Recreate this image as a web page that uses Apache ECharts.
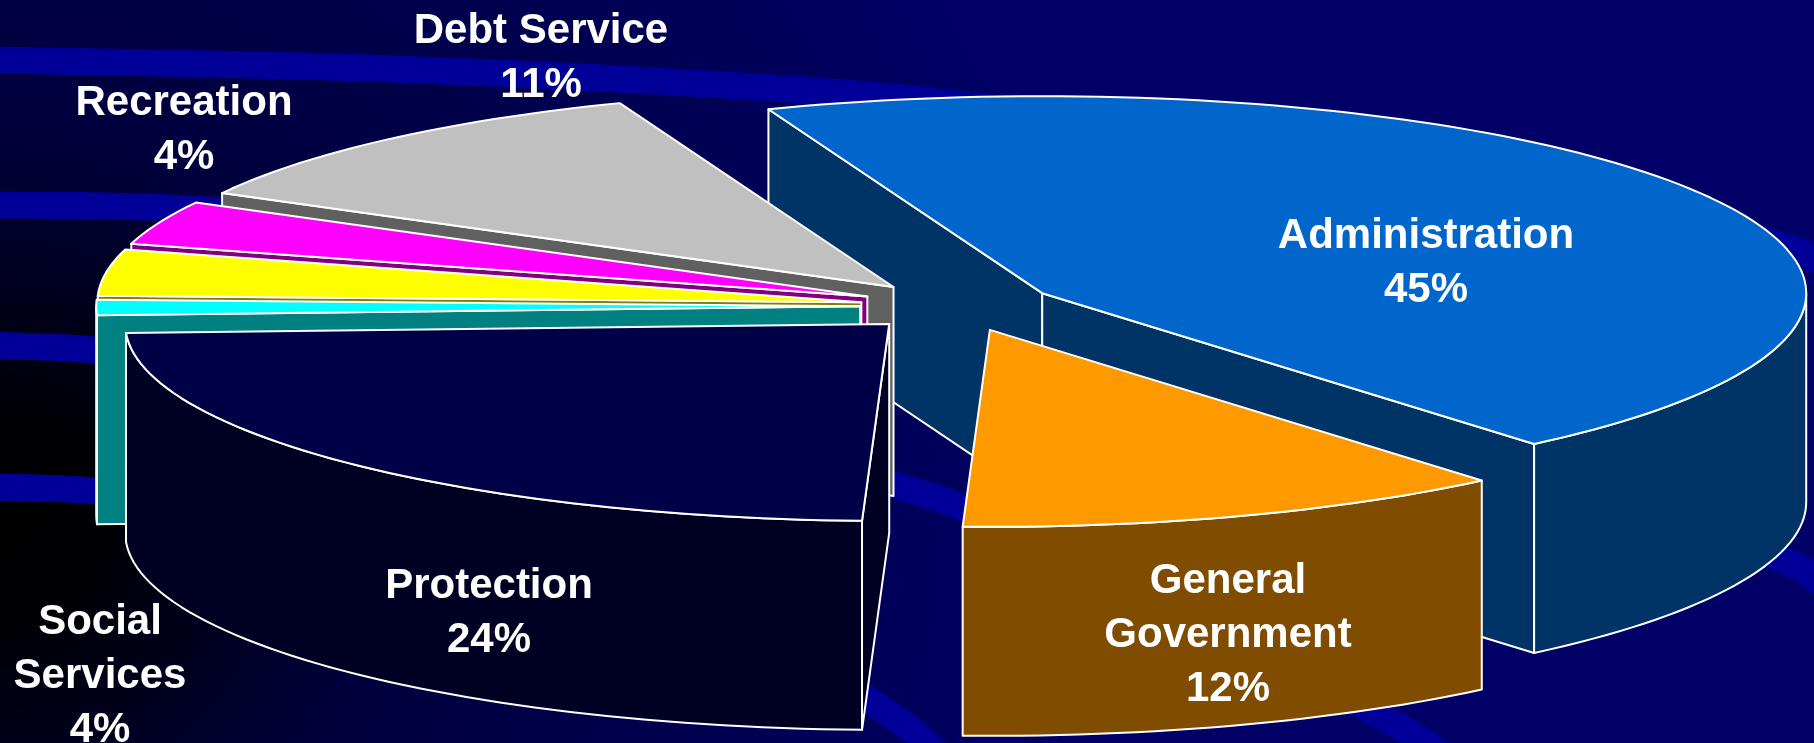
<!DOCTYPE html>
<html>
<head>
<meta charset="utf-8">
<title>Budget pie</title>
<style>
  html, body { margin: 0; padding: 0; background: #000050; }
  #chart { width: 1814px; height: 743px; }
</style>
<script src="https://cdn.jsdelivr.net/npm/echarts@6/dist/echarts.min.js"></script>
</head>
<body>
<div id="chart"></div>
<script>
// values, clockwise from the Administration slice
const categories = ['Administration', 'General Government', 'Protection', 'Other', 'Social Services', 'Recreation', 'Debt Service']
const sliceValues = [44.7, 11.7, 23.7, 1.25, 3.8, 3.6, 11.25]
const percentLabels = ['45%', '12%', '24%', '', '4%', '4%', '11%']
const labelLines = ['Administration', 'General\nGovernment', 'Protection', '', 'Social\nServices', 'Recreation', 'Debt Service']

const topColors = ['#0066cc', '#ff9900', '#000046', '#00ffff', '#ffff00', '#ff00ff', '#c0c0c0']
const wallColors = ['#003366', '#804c00', '#000022', '#008080', '#808000', '#800080', '#606060']
const labelAnchors = [[1426, 263], [1228, 635], [489, 613], null, [100, 676], [184, 130], [541, 58]]
const paintOrder = [0, 6, 5, 4, 3, 2, 1]

// the tilted pie, in pixels
const centerX = 958
const centerY = 306
const radiusX = 764
const radiusY = 197
const depth = 209
const explode = 0.128
const startAngle = -21

const total = sliceValues.reduce((a, b) => a + b, 0)
const rad = d => d * Math.PI / 180

function sliceAngles (index) {
  let from = startAngle
  for (let i = 0; i < index; i++) from += sliceValues[i] / total * 360
  return [from, from + sliceValues[index] / total * 360]
}

function sliceChildren (index, order) {
  const [from, to] = sliceAngles(index)
  const mid = rad((from + to) / 2)
  const apexX = centerX + explode * radiusX * Math.sin(mid)
  const apexY = centerY - explode * radiusY * Math.cos(mid)
  const rim = d => [apexX + radiusX * Math.sin(rad(d)), apexY - radiusY * Math.cos(rad(d))]
  const down = p => [p[0], p[1] + depth]
  const arc = (a, b) => {
    const pts = []
    const steps = Math.max(2, Math.ceil(Math.abs(b - a) / 1.5))
    for (let i = 0; i <= steps; i++) pts.push(rim(a + (b - a) * i / steps))
    return pts
  }
  const face = (points, fill, z) => ({
    type: 'polygon',
    z2: order * 10 + z,
    shape: { points: points },
    style: { fill: fill, stroke: '#ffffff', lineWidth: 2, lineJoin: 'round' }
  })
  const apex = [apexX, apexY]
  const children = []
  if (Math.sin(rad(from)) < 0) {
    children.push(face([apex, rim(from), down(rim(from)), down(apex)], wallColors[index], 1))
  }
  if (Math.sin(rad(to)) > 0) {
    children.push(face([apex, rim(to), down(rim(to)), down(apex)], wallColors[index], 1))
  }
  const a = Math.max(from, 90)
  const b = Math.min(to, 270)
  if (b > a) {
    const top = arc(a, b)
    children.push(face(top.concat(top.map(down).reverse()), wallColors[index], 2))
  }
  children.push(face([apex].concat(arc(from, to)), topColors[index], 3))
  return children
}

const bands = [
  [[-20, 60], [300, 66], [600, 78], [900, 98], [1300, 150], [1600, 200], [1790, 248], [1830, 266]],
  [[-20, 205], [230, 212], [800, 290], [1300, 410], [1600, 500], [1795, 565], [1830, 592]],
  [[-20, 345], [95, 350], [500, 395], [930, 496], [1200, 620], [1400, 727], [1450, 760]],
  [[-20, 487], [95, 491], [500, 540], [800, 660], [905, 725], [955, 770]]
]

const bandElements = bands.map(points => ({
  type: 'polyline',
  z: -9,
  shape: { points: points, smooth: 0.3 },
  style: { stroke: '#000099', lineWidth: 27, fill: null }
}))

const dom = echarts.init(document.getElementById('chart'))
const option = {
  animation: false,
  graphic: {
    elements: [{
      type: 'rect',
      z: -10,
      shape: { x: 0, y: 0, width: 1814, height: 743 },
      style: {
        fill: new echarts.graphic.RadialGradient(0, 520, 1100, [
          { offset: 0, color: '#000000' },
          { offset: 0.1, color: '#000006' },
          { offset: 0.35, color: '#00003c' },
          { offset: 1, color: '#000066' }
        ], true)
      }
    }].concat(bandElements)
  },
  series: [{
    type: 'custom',
    coordinateSystem: 'none',
    clip: false,
    silent: true,
    data: paintOrder.map(i => ({ name: categories[i], value: [sliceValues[i], i] })),
    renderItem: function (params, api) {
      const index = api.value(1)
      const children = sliceChildren(index, params.dataIndex)
      if (labelAnchors[index]) {
        children.push({
          type: 'text',
          z2: 500,
          x: labelAnchors[index][0],
          y: labelAnchors[index][1],
          style: {
            text: labelLines[index] + '\n' + percentLabels[index],
            fill: '#ffffff',
            font: 'bold 42px "Liberation Sans", Arial, sans-serif',
            lineHeight: 54,
            align: 'center',
            verticalAlign: 'middle'
          }
        })
      }
      return { type: 'group', children: children }
    }
  }]
}
dom.setOption(option)
</script>
</body>
</html>
